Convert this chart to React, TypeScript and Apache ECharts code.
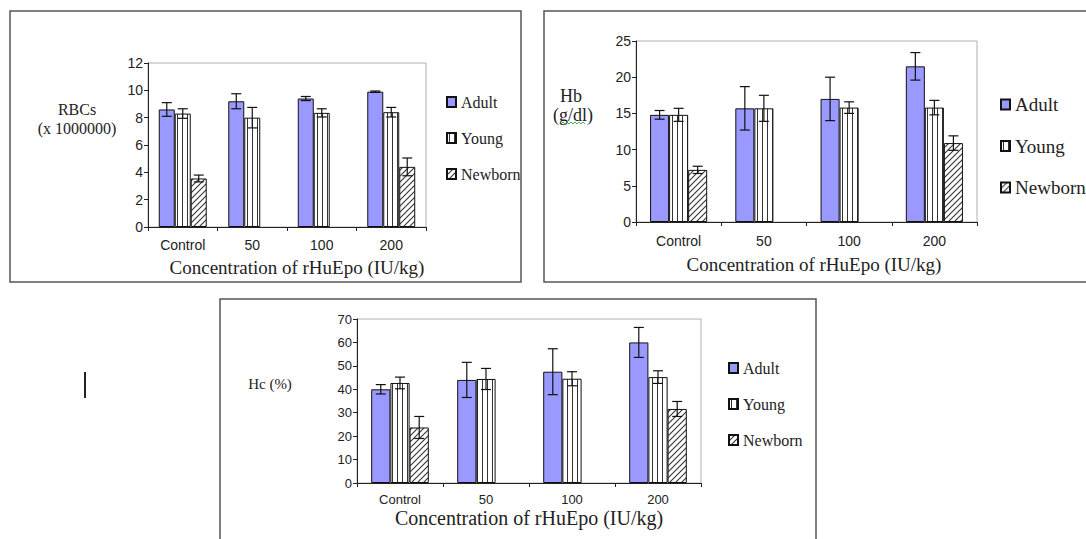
import React, { useEffect, useRef } from 'react';
import * as echarts from 'echarts';

const categories = ['Control', '50', '100', '200'];
const seriesNames = ['Adult', 'Young', 'Newborn'];
const xTitle = 'Concentration of rHuEpo (IU/kg)';

// RBCs (x 1000000)
const rbcAdult = [8.6, 9.2, 9.4, 9.9];
const rbcAdultErr = [0.5, 0.55, 0.15, 0.05];
const rbcYoung = [8.3, 8.0, 8.35, 8.4];
const rbcYoungErr = [0.35, 0.75, 0.3, 0.35];
const rbcNewborn = [3.55, null, null, 4.4];
const rbcNewbornErr = [0.25, null, null, 0.65];

// Hb (g/dl)
const hbAdult = [14.8, 15.7, 17.0, 21.5];
const hbAdultErr = [0.6, 3.0, 3.0, 1.9];
const hbYoung = [14.8, 15.7, 15.8, 15.8];
const hbYoungErr = [0.9, 1.8, 0.8, 1.0];
const hbNewborn = [7.2, null, null, 10.9];
const hbNewbornErr = [0.5, null, null, 1.0];

// Hc (%)
const hcAdult = [40, 44, 47.5, 60];
const hcAdultErr = [2, 7.5, 9.8, 6.4];
const hcYoung = [42.7, 44.4, 44.5, 45.2];
const hcYoungErr = [2.5, 4.5, 3, 2.7];
const hcNewborn = [23.7, null, null, 31.6];
const hcNewbornErr = [4.7, null, null, 3.2];

const rbcTicks = { min: 0, max: 12, interval: 2 };
const hbTicks = { min: 0, max: 25, interval: 5 };
const hcTicks = { min: 0, max: 70, interval: 10 };

function makePattern(kind: 'stripe' | 'hatch') {
  const c = document.createElement('canvas');
  const s = kind === 'stripe' ? 5 : 6;
  c.width = s;
  c.height = s;
  const ctx = c.getContext('2d')!;
  ctx.fillStyle = '#ffffff';
  ctx.fillRect(0, 0, s, s);
  if (kind === 'stripe') {
    ctx.fillStyle = '#333333';
    ctx.fillRect(2, 0, 1, s);
  } else {
    ctx.strokeStyle = '#333333';
    ctx.lineWidth = 1.1;
    ctx.beginPath();
    ctx.moveTo(-1, s + 1);
    ctx.lineTo(s + 1, -1);
    ctx.moveTo(-1, 1);
    ctx.lineTo(1, -1);
    ctx.moveTo(s - 1, s + 1);
    ctx.lineTo(s + 1, s - 1);
    ctx.stroke();
  }
  return { image: c.toDataURL(), repeat: 'repeat', imageWidth: s, imageHeight: s } as any;
}

export default function App() {
  const ref = useRef<HTMLDivElement>(null);
  useEffect(() => {
    if (!ref.current) return;
    const chart = echarts.init(ref.current, null, { renderer: 'svg' });
    const fills = ['#9999ff', makePattern('stripe'), makePattern('hatch')];

    const panels = [
      {
        grid: { left: 148, top: 63, width: 278, height: 164 },
        ticks: rbcTicks,
        vals: [rbcAdult, rbcYoung, rbcNewborn],
        errs: [rbcAdultErr, rbcYoungErr, rbcNewbornErr],
        gap: 0.31,
        nameGap: 31,
        namePadLeft: 20,
        labelMargin: 11,
        tickFont: 14,
        titleFont: 19,
        legend: { left: 446, top: 94, gap: 20, font: 16, lh: 16 },
      },
      {
        grid: { left: 636, top: 41, width: 341, height: 181 },
        ticks: hbTicks,
        vals: [hbAdult, hbYoung, hbNewborn],
        errs: [hbAdultErr, hbYoungErr, hbNewbornErr],
        gap: 0.33,
        nameGap: 33,
        namePadLeft: 15,
        labelMargin: 12,
        tickFont: 14,
        titleFont: 19,
        legend: { left: 1000, top: 95, gap: 22.5, font: 19, lh: 18 },
      },
      {
        grid: { left: 357, top: 319, width: 344, height: 164 },
        ticks: hcTicks,
        vals: [hcAdult, hcYoung, hcNewborn],
        errs: [hcAdultErr, hcYoungErr, hcNewbornErr],
        gap: 0.33,
        nameGap: 25,
        namePadLeft: 0,
        labelMargin: 10,
        tickFont: 13,
        titleFont: 20,
        legend: { left: 728, top: 360, gap: 20, font: 16, lh: 16 },
      },
    ];

    const grid: any[] = [];
    const xAxis: any[] = [];
    const yAxis: any[] = [];
    const series: any[] = [];
    const legend: any[] = [];

    panels.forEach((p, pi) => {
      grid.push({
        ...p.grid,
        show: true,
        borderColor: '#b0b0b0',
        borderWidth: 1,
        backgroundColor: 'transparent',
      });
      xAxis.push({
        type: 'category',
        gridIndex: pi,
        data: categories,
        axisLine: { lineStyle: { color: '#222', width: 1 } },
        axisTick: { show: true, length: 4, lineStyle: { color: '#222' } },
        axisLabel: { color: '#222', fontFamily: 'Liberation Sans', fontSize: p.tickFont, margin: p.labelMargin },
        name: xTitle,
        nameLocation: 'middle',
        nameGap: p.nameGap,
        nameTextStyle: {
          color: '#222',
          fontFamily: 'Liberation Serif',
          fontSize: p.titleFont,
          padding: [0, 0, 0, p.namePadLeft],
        },
      });
      yAxis.push({
        type: 'value',
        gridIndex: pi,
        min: p.ticks.min,
        max: p.ticks.max,
        interval: p.ticks.interval,
        axisLine: { show: true, lineStyle: { color: '#222', width: 1 } },
        axisTick: { show: true, length: 4, lineStyle: { color: '#222' } },
        splitLine: { show: false },
        axisLabel: { color: '#222', fontFamily: 'Liberation Sans', fontSize: p.tickFont, margin: 5 },
      });
      seriesNames.forEach((name, si) => {
        series.push({
          type: 'bar',
          name,
          xAxisIndex: pi,
          yAxisIndex: pi,
          data: p.vals[si],
          barGap: '0%',
          barCategoryGap: Math.round(p.gap * 100) + '%',
          itemStyle: { color: fills[si], borderColor: '#111', borderWidth: 1 },
          emphasis: { disabled: true },
          z: 2,
        });
      });
      seriesNames.forEach((name, si) => {
        const data: any[] = [];
        p.vals[si].forEach((v, ci) => {
          const e = p.errs[si][ci];
          if (v != null && e != null) data.push([ci, v, e]);
        });
        const gap = p.gap;
        series.push({
          type: 'custom',
          name: name + ' error',
          xAxisIndex: pi,
          yAxisIndex: pi,
          data,
          z: 5,
          silent: true,
          renderItem: (params: any, api: any) => {
            const ci = api.value(0);
            const v = api.value(1);
            const e = api.value(2);
            const band = api.size([1, 0])[0];
            const w = (band * (1 - gap)) / 3;
            const top = api.coord([ci, v + e]);
            const bot = api.coord([ci, v - e]);
            const cx = top[0] + (si - 1) * w;
            const cap = 5;
            const style = { stroke: '#111', lineWidth: 1.2 };
            return {
              type: 'group',
              children: [
                { type: 'line', shape: { x1: cx, y1: top[1], x2: cx, y2: bot[1] }, style },
                { type: 'line', shape: { x1: cx - cap, y1: top[1], x2: cx + cap, y2: top[1] }, style },
                { type: 'line', shape: { x1: cx - cap, y1: bot[1], x2: cx + cap, y2: bot[1] }, style },
              ],
            };
          },
        });
      });
      legend.push({
        data: seriesNames,
        orient: 'vertical',
        left: p.legend.left,
        top: p.legend.top,
        padding: 0,
        itemGap: p.legend.gap,
        itemWidth: 9,
        itemHeight: 10,
        icon: 'rect',
        selectedMode: false,
        textStyle: {
          color: '#222',
          fontFamily: 'Liberation Serif',
          fontSize: p.legend.font,
          lineHeight: p.legend.lh,
        },
      });
    });

    const serif = 'Liberation Serif';
    const graphic: any[] = [
      { type: 'rect', shape: { x: 10, y: 11, width: 511, height: 271 }, style: { fill: 'none', stroke: '#555', lineWidth: 1.5 } },
      { type: 'rect', shape: { x: 544, y: 11, width: 600, height: 271 }, style: { fill: 'none', stroke: '#555', lineWidth: 1.5 } },
      { type: 'rect', shape: { x: 220, y: 299, width: 596, height: 270 }, style: { fill: 'none', stroke: '#555', lineWidth: 1.5 } },
      { type: 'text', x: 77, y: 109, style: { text: 'RBCs', font: `16px "${serif}"`, fill: '#222', textAlign: 'center', textVerticalAlign: 'middle' } },
      { type: 'text', x: 77, y: 128, style: { text: '(x 1000000)', font: `16px "${serif}"`, fill: '#222', textAlign: 'center', textVerticalAlign: 'middle' } },
      { type: 'text', x: 571, y: 96, style: { text: 'Hb', font: `18px "${serif}"`, fill: '#222', textAlign: 'center', textVerticalAlign: 'middle' } },
      { type: 'text', x: 573, y: 115, style: { text: '(g/dl)', font: `18px "${serif}"`, fill: '#222', textAlign: 'center', textVerticalAlign: 'middle' } },
      {
        type: 'polyline',
        shape: { points: [[561, 124], [563, 122], [565, 124], [567, 122], [569, 124], [571, 122], [573, 124], [575, 122], [577, 124], [579, 122], [581, 124], [583, 122], [585, 124]] },
        style: { stroke: '#4caf50', lineWidth: 1, fill: 'none' },
      },
      { type: 'text', x: 270, y: 384, style: { text: 'Hc (%)', font: `15px "${serif}"`, fill: '#222', textAlign: 'center', textVerticalAlign: 'middle' } },
      { type: 'line', shape: { x1: 85, y1: 372, x2: 85, y2: 398 }, style: { stroke: '#222', lineWidth: 2 } },
    ];

    chart.setOption({
      animation: false,
      backgroundColor: '#ffffff',
      grid,
      xAxis,
      yAxis,
      series,
      legend,
      graphic,
    });
    return () => chart.dispose();
  }, []);
  return (
    <div
      ref={ref}
      style={{ position: 'fixed', left: 0, top: 0, width: 1086, height: 539, background: '#fff' }}
    />
  );
}
